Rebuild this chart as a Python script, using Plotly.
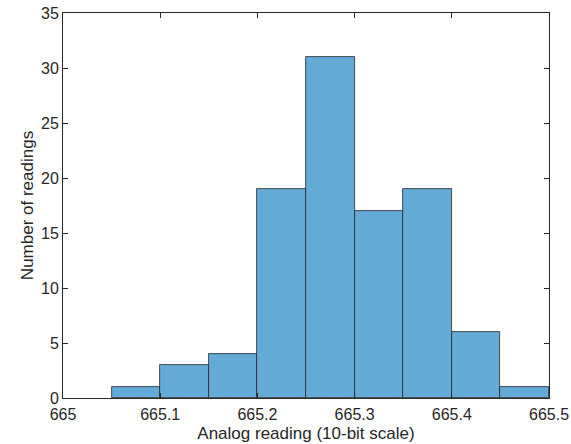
import plotly.graph_objects as go

bin_edges = [665.05, 665.10, 665.15, 665.20, 665.25, 665.30, 665.35, 665.40, 665.45, 665.50]
counts = [1, 3, 4, 19, 31, 17, 19, 6, 1]
x_ticks = [665.0, 665.1, 665.2, 665.3, 665.4, 665.5]
x_tick_labels = ["665", "665.1", "665.2", "665.3", "665.4", "665.5"]
y_ticks = [0, 5, 10, 15, 20, 25, 30, 35]

centers = [(a + b) / 2 for a, b in zip(bin_edges[:-1], bin_edges[1:])]
widths = [b - a for a, b in zip(bin_edges[:-1], bin_edges[1:])]

axis_color = "#262626"
family = "Liberation Sans, Arial, sans-serif"
tick_font = dict(family=family, size=16, color="#262626")
title_font = dict(family=family, size=17, color="#262626")

fig = go.Figure(
    go.Bar(
        x=centers,
        y=counts,
        width=widths,
        marker=dict(color="rgb(100,170,215)", line=dict(color="#262626", width=0.8)),
    )
)

fig.update_layout(
    width=571,
    height=444,
    margin=dict(l=63, r=22, t=13, b=46, autoexpand=False),
    plot_bgcolor="white",
    paper_bgcolor="white",
    font=tick_font,
    showlegend=False,
    bargap=0,
)

fig.update_xaxes(
    range=[665.0, 665.5],
    tickvals=x_ticks,
    ticktext=x_tick_labels,
    ticks="inside",
    ticklen=5,
    tickwidth=1,
    tickcolor=axis_color,
    showline=True,
    linecolor=axis_color,
    linewidth=1,
    mirror="ticks",
    showgrid=False,
    zeroline=False,
    automargin=False,
    ticklabelstandoff=2,
    title=dict(text="Analog reading (10-bit scale)", font=title_font, standoff=4),
    tickfont=tick_font,
)
fig.update_yaxes(
    range=[0, 35],
    tickvals=y_ticks,
    ticks="inside",
    ticklen=5,
    tickwidth=1,
    tickcolor=axis_color,
    showline=True,
    linecolor=axis_color,
    linewidth=1,
    mirror="ticks",
    showgrid=False,
    zeroline=False,
    automargin=False,
    title=dict(text="Number of readings", font=title_font, standoff=3),
    tickfont=tick_font,
)

fig.write_html(
    "out.html",
    config={"displayModeBar": False},
    post_script="document.body.style.margin='0';document.body.style.padding='0';",
)
